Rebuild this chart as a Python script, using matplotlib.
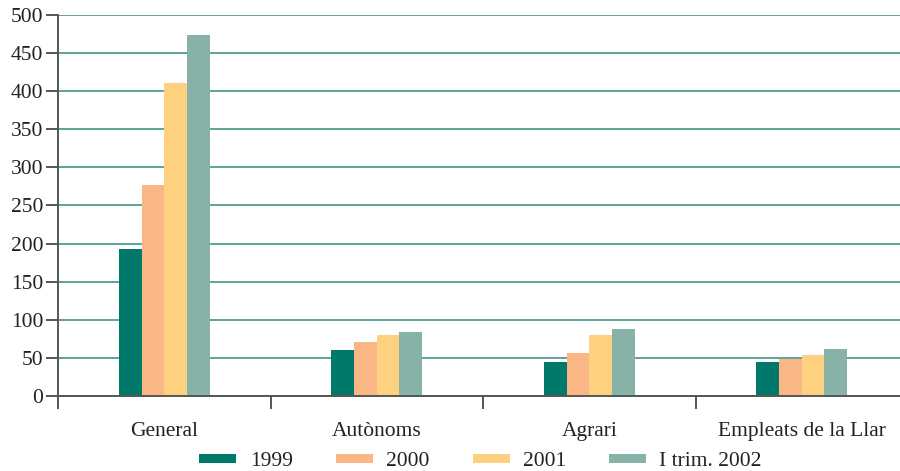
import matplotlib.pyplot as plt
import numpy as np
from matplotlib.patches import Patch

categories = ['General', 'Autònoms', 'Agrari', 'Empleats de la Llar']
series_names = ['1999', '2000', '2001', 'I trim. 2002']
values_1999 = [193, 60, 44, 45]
values_2000 = [277, 71, 56, 49]
values_2001 = [411, 80, 80, 54]
values_2002 = [474, 84, 88, 62]
y_ticks = [0, 50, 100, 150, 200, 250, 300, 350, 400, 450, 500]

colors = ['#00796a', '#fbb686', '#fdd17f', '#86b2a8']


def draw_chart() -> None:
    """
    Draws the grouped bar chart and saves it to out.png.
    """
    plt.rcParams['font.family'] = ['Liberation Serif', 'DejaVu Serif']
    fig = plt.figure(figsize=(9, 4.71), dpi=100)
    ax = fig.add_axes([58 / 900, 0.1592, 850 / 900, 0.809])

    series = [values_1999, values_2000, values_2001, values_2002]
    x = np.arange(len(categories))
    width = 0.107
    for i, (vals, col) in enumerate(zip(series, colors)):
        ax.bar(x + (i - 1.5) * width, vals, width, color=col, zorder=3)

    ax.set_xlim(-0.5, 3.5)
    ax.set_ylim(0, 500)
    ax.set_yticks(y_ticks)
    ax.set_yticklabels([str(t) for t in y_ticks])
    ax.yaxis.grid(True, color='#5aa398', linewidth=1.4, zorder=0)

    # categories sit between the boundary ticks
    ax.set_xticks(x)
    ax.set_xticklabels(categories)
    ax.tick_params(axis='x', length=0, pad=18.5, labelsize=15.5,
                   labelcolor='#222222')
    ax.set_xticks(np.arange(-0.5, 4.0, 1.0), minor=True)
    ax.tick_params(axis='x', which='minor', length=9.5, width=1.4,
                   color='#555555', direction='out')
    ax.tick_params(axis='y', length=9, width=1.4, color='#555555',
                   labelsize=15.5, pad=1.5, labelcolor='#222222')

    for side in ['top', 'right']:
        ax.spines[side].set_visible(False)
    for side in ['left', 'bottom']:
        ax.spines[side].set_color('#555555')
        ax.spines[side].set_linewidth(1.4)
        ax.spines[side].set_zorder(4)

    handles = [Patch(facecolor=c, label=n) for c, n in zip(colors, series_names)]
    leg = fig.legend(handles=handles, loc='center', ncol=4,
                     bbox_to_anchor=(0.534, 0.02), frameon=False,
                     fontsize=15.5, handlelength=1.72, handleheight=0.28,
                     handletextpad=0.62, columnspacing=2.0)
    for t in leg.get_texts():
        t.set_color('#222222')

    fig.savefig('out.png', dpi=100)


if __name__ == "__main__":
    draw_chart()
